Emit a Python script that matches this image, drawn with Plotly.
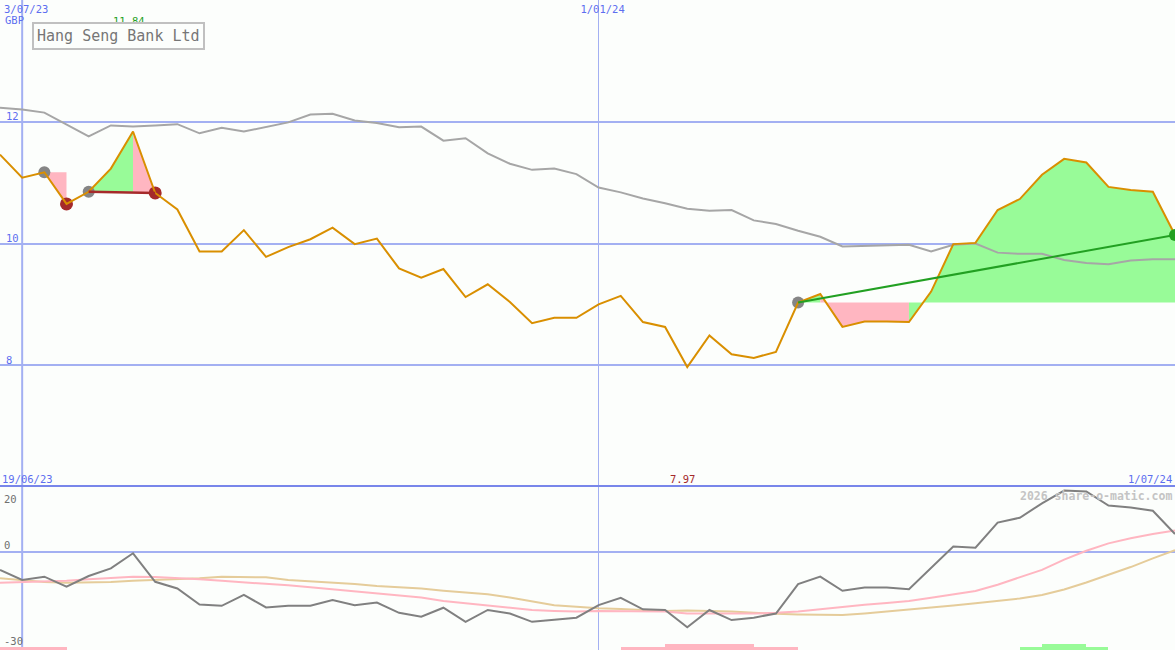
import plotly.graph_objects as go

# ---------------- data (weekly, index 0 = 26/06/23 ... 53 = 1/07/24) ----------------
WEEK_IDX = list(range(54))
PRICE = [11.46, 11.08, 11.17, 10.65, 10.85, 11.23, 11.84, 10.83, 10.56, 9.87,
         9.87, 10.22, 9.78, 9.94, 10.07, 10.26, 9.99, 10.08, 9.59, 9.44,
         9.58, 9.12, 9.33, 9.04, 8.69, 8.78, 8.78, 9.00, 9.14, 8.71,
         8.63, 7.97, 8.49, 8.18, 8.12, 8.22, 9.03, 9.17, 8.63, 8.72,
         8.72, 8.71, 9.21, 9.99, 10.01, 10.55, 10.73, 11.13, 11.39, 11.33,
         10.93, 10.88, 10.85, 10.14]
MOV_AVG = [12.23, 12.20, 12.15, 11.95, 11.76, 11.94, 11.92, 11.94, 11.96, 11.81,
           11.90, 11.84, 11.91, 11.99, 12.12, 12.13, 12.02, 11.98, 11.91, 11.92,
           11.69, 11.73, 11.48, 11.31, 11.21, 11.23, 11.14, 10.92, 10.84, 10.74,
           10.66, 10.57, 10.54, 10.55, 10.38, 10.32, 10.21, 10.11, 9.95, 9.96,
           9.96, 9.98, 9.87, 9.98, 10.00, 9.85, 9.83, 9.83, 9.73, 9.68,
           9.66, 9.72, 9.74, 9.74]
MOMENTUM = [-5.6, -8.75, -7.7, -10.8, -7.5, -5.1, -0.4, -9.3, -11.4, -16.4,
            -16.8, -13.4, -17.3, -16.8, -16.8, -15.0, -16.6, -15.8, -19.0, -20.2,
            -17.4, -21.8, -18.1, -19.2, -21.8, -21.25, -20.5, -16.6, -14.3, -17.9,
            -18.1, -23.5, -18.1, -21.25, -20.5, -19.2, -10.0, -7.7, -12.1, -11.1,
            -11.1, -11.6, -5.1, 1.7, 1.35, 9.2, 10.7, 15.2, 19.2, 18.9,
            14.5, 13.9, 12.9, 5.6]
MOM_FAST = [-9.6, -9.4, -9.2, -9.0, -8.5, -8.0, -7.7, -7.8, -8.1, -8.5,
            -9.0, -9.4, -9.8, -10.4, -11.0, -11.6, -12.2, -12.8, -13.4, -14.2,
            -15.3, -16.0, -16.9, -17.4, -18.1, -18.4, -18.6, -18.4, -18.4, -18.6,
            -18.6, -19.2, -19.2, -19.4, -19.2, -19.0, -18.6, -17.9, -17.1, -16.5,
            -15.9, -15.3, -14.3, -13.3, -12.2, -10.2, -7.9, -5.6, -2.4, 0.4,
            2.7, 4.3, 5.6, 6.7]
MOM_SLOW = [-8.2, -8.8, -9.4, -9.6, -9.6, -9.4, -9.0, -8.75, -8.4, -8.2,
            -7.7, -7.7, -7.9, -8.75, -9.1, -9.5, -10.0, -10.6, -11.0, -11.4,
            -12.1, -12.6, -13.2, -14.2, -15.5, -16.6, -17.1, -17.6, -17.8, -18.1,
            -18.4, -18.3, -18.4, -18.6, -19.0, -19.3, -19.5, -19.6, -19.7, -19.2,
            -18.6, -18.1, -17.4, -16.7, -16.0, -15.3, -14.5, -13.4, -11.7, -9.5,
            -7.1, -4.7, -2.0, 0.6]

X_TICK_IDX = [1, 27]
X_TICK_TEXT = ["3/07/23", "1/01/24"]
Y_TICKS = [8, 10, 12]
Y2_TICKS = [20, 0, -30]
PANEL2_DATES = ["19/06/23", "1/07/24"]
SIG_IDX = [0, 1, 2, 28, 29, 30, 31, 32, 33, 34, 35, 46, 47, 48, 49]
SIG_LEVEL = [-1, -1, -1, -1, -1, -2, -2, -2, -2, -1, -1, 1, 2, 2, 1]
TITLE = "Hang Seng Bank Ltd"
CURRENCY = "GBP"
WATERMARK = "2026 share-o-matic.com"

DROP = (2, 3)            # gray start -> red end
SWING = (4, 6, 7)        # gray start, peak, red end
TREND = (36, 41, 53)     # gray start, fill switch, green end

# ---------------- styles ----------------
FONT = "DejaVu Sans Mono"
BLUE_TXT = "#5d6ef0"
GRID = "#a3b0f2"
ORANGE = "#d98f00"
GRAYLINE = "#a6a6a6"
PINK = "#ffb6c1"
LGREEN = "#98fb98"
DKRED = "#a52a2a"
DKGREEN = "#22a022"
BG = "#fcfefc"

P = PRICE
fig = go.Figure()

def poly(xs, ys, color):
    fig.add_trace(go.Scatter(x=xs, y=ys, mode="lines", fill="toself", fillcolor=color,
                             line=dict(width=0), hoverinfo="skip", showlegend=False,
                             xaxis="x", yaxis="y"))

# drop pattern
a, b = DROP
poly([a, b, b], [P[a], P[b], P[a]], PINK)
# swing pattern
s, pk, e = SWING
def base_sw(x):
    return P[s] + (P[e] - P[s]) * (x - s) / (e - s)
gx = list(range(s, pk + 1))
poly(gx + [pk], [P[i] for i in gx] + [base_sw(pk)], LGREEN)
poly([pk, e, pk], [P[pk], P[e], base_sw(pk)], PINK)
# trend pattern
t0, t1, t2 = TREND
bl = P[t0]
poly([t0, t0 + 1, t0 + 1], [bl, P[t0 + 1], bl], LGREEN)
px_ = list(range(t0 + 1, t1 + 1))
poly([t0 + 1] + px_ + [t1], [bl] + [P[i] for i in px_] + [bl], PINK)
gx2 = list(range(t1, t2 + 1))
poly(gx2 + [t2, t1], [P[i] for i in gx2] + [bl, bl], LGREEN)

# moving average
fig.add_trace(go.Scatter(x=WEEK_IDX, y=MOV_AVG, mode="lines", line=dict(color=GRAYLINE, width=2),
                         showlegend=False, hoverinfo="skip"))
# start / end dots (under price line)
fig.add_trace(go.Scatter(x=[DROP[0], SWING[0], TREND[0]], y=[P[DROP[0]], P[SWING[0]], P[TREND[0]]],
                         mode="markers", marker=dict(color="#858585", size=12, line=dict(width=0)),
                         showlegend=False, hoverinfo="skip"))
fig.add_trace(go.Scatter(x=[DROP[1], SWING[2]], y=[P[DROP[1]], P[SWING[2]]],
                         mode="markers", marker=dict(color=DKRED, size=13, line=dict(width=0)),
                         showlegend=False, hoverinfo="skip"))
# price
fig.add_trace(go.Scatter(x=WEEK_IDX, y=PRICE, mode="lines", line=dict(color=ORANGE, width=2),
                         showlegend=False, hoverinfo="skip"))
# swing baseline
fig.add_trace(go.Scatter(x=[s, e], y=[P[s], P[e]], mode="lines", line=dict(color=DKRED, width=2.5),
                         showlegend=False, hoverinfo="skip"))
# trend line + end dot
fig.add_trace(go.Scatter(x=[t0, t2], y=[P[t0], P[t2]], mode="lines", line=dict(color=DKGREEN, width=2),
                         showlegend=False, hoverinfo="skip"))
fig.add_trace(go.Scatter(x=[t2], y=[P[t2]], mode="markers", marker=dict(color=DKGREEN, size=12),
                         showlegend=False, hoverinfo="skip"))

# ---------------- lower panel ----------------
Y2_MIN, Y2_MAX = -30.6, 20.3
fig.add_trace(go.Bar(x=[i + 0.5 for i in SIG_IDX], y=[abs(v) * 0.9 for v in SIG_LEVEL], base=Y2_MIN,
                     width=1, marker=dict(color=[LGREEN if v > 0 else PINK for v in SIG_LEVEL], line=dict(width=0)),
                     xaxis="x2", yaxis="y2", showlegend=False, hoverinfo="skip"))
fig.add_trace(go.Scatter(x=WEEK_IDX, y=MOM_SLOW, mode="lines", line=dict(color="#e5cc9a", width=2),
                         xaxis="x2", yaxis="y2", showlegend=False, hoverinfo="skip"))
fig.add_trace(go.Scatter(x=WEEK_IDX, y=MOM_FAST, mode="lines", line=dict(color=PINK, width=2),
                         xaxis="x2", yaxis="y2", showlegend=False, hoverinfo="skip"))
fig.add_trace(go.Scatter(x=WEEK_IDX, y=MOMENTUM, mode="lines", line=dict(color="#808080", width=2),
                         xaxis="x2", yaxis="y2", showlegend=False, hoverinfo="skip"))

H = 650.0
split = 1 - 487 / H
xr = [WEEK_IDX[0], WEEK_IDX[-1]]

fig.update_layout(
    width=1175, height=650, margin=dict(l=0, r=0, t=0, b=0),
    paper_bgcolor=BG, plot_bgcolor=BG,
    font=dict(family=FONT, size=10, color=BLUE_TXT),
    xaxis=dict(domain=[0, 1], range=xr, side="top", tickvals=X_TICK_IDX, ticktext=X_TICK_TEXT,
               ticklabelposition="inside", ticks="", showgrid=True, gridcolor=GRID, gridwidth=1,
               ticklabelstandoff=3, ticklabelshift=4,
               zeroline=False, showline=False, anchor="y",
               tickfont=dict(family=FONT, size=10.5, color=BLUE_TXT)),
    yaxis=dict(domain=[split, 1], range=[6, 14], tickvals=Y_TICKS, ticklabelposition="inside top",
               ticklabelstandoff=3, ticklabelshift=2,
               ticks="", showgrid=True, gridcolor=GRID, gridwidth=2, zeroline=False, showline=False,
               tickfont=dict(family=FONT, size=10.5, color=BLUE_TXT)),
    xaxis2=dict(domain=[0, 1], range=xr, anchor="y2", side="top", tickvals=X_TICK_IDX,
                showticklabels=False, ticks="", showgrid=True, gridcolor=GRID, gridwidth=1,
                zeroline=False, showline=True, linecolor="#7886ea", linewidth=2),
    yaxis2=dict(domain=[0, split], range=[Y2_MIN, Y2_MAX], tickvals=[0], showticklabels=False,
                ticks="", showgrid=True, gridcolor=GRID, gridwidth=2, zeroline=False, showline=False),
    bargap=0,
)

# thicker first date line
fig.add_shape(type="line", xref="x", yref="paper", x0=X_TICK_IDX[0], x1=X_TICK_IDX[0], y0=0, y1=1,
              line=dict(color=GRID, width=2), layer="below")

ann = []
ann.append(dict(text=CURRENCY, xref="paper", yref="paper", x=3 / 1175, y=1 - 20 / H,
                xanchor="left", yanchor="middle", showarrow=False,
                font=dict(family=FONT, size=10.5, color=BLUE_TXT)))
imax = PRICE.index(max(PRICE))
imin = PRICE.index(min(PRICE))
ann.append(dict(text=f"{PRICE[imax]:.2f}", xref="x", yref="paper", x=imax - 0.2, y=1 - 21 / H,
                xanchor="center", yanchor="middle", showarrow=False,
                font=dict(family=FONT, size=10.5, color=DKGREEN)))
ann.append(dict(text=f"{PRICE[imin]:.2f}", xref="x", yref="paper", x=imin - 0.2, y=1 - 479 / H,
                xanchor="center", yanchor="middle", showarrow=False,
                font=dict(family=FONT, size=10.5, color=DKRED)))
ann.append(dict(text=PANEL2_DATES[0], xref="paper", yref="paper", x=0, y=1 - 479 / H,
                xanchor="left", yanchor="middle", showarrow=False,
                font=dict(family=FONT, size=10.5, color=BLUE_TXT)))
ann.append(dict(text=PANEL2_DATES[1], xref="paper", yref="paper", x=1174 / 1175, y=1 - 479 / H,
                xanchor="right", yanchor="middle", showarrow=False,
                font=dict(family=FONT, size=10.5, color=BLUE_TXT)))
ann.append(dict(text="<b>" + WATERMARK + "</b>", xref="paper", yref="paper", x=1174 / 1175, y=1 - 496 / H,
                xanchor="right", yanchor="middle", showarrow=False,
                font=dict(family=FONT, size=11.5, color="#c4c4c4")))
for v in Y2_TICKS:
    top = v == max(Y2_TICKS)
    ann.append(dict(text=str(v), xref="paper", yref="y2", x=2 / 1175, y=v,
                    xanchor="left", yanchor="top" if top else "bottom", yshift=-3 if top else -1,
                    showarrow=False, font=dict(family=FONT, size=10.5, color="#707070")))
ann.append(dict(text=TITLE, xref="paper", yref="paper", x=32 / 1175, y=1 - 36.5 / H,
                xanchor="left", yanchor="middle", showarrow=False,
                bordercolor="#c0c0c0", borderwidth=2, borderpad=3, bgcolor=BG,
                font=dict(family=FONT, size=15, color="#767676")))
fig.update_layout(annotations=ann)

fig.write_html("out.html", config={"displayModeBar": False},
               post_script="document.body.style.margin='0';document.body.style.padding='0';"
                           "document.body.style.overflow='hidden';")
